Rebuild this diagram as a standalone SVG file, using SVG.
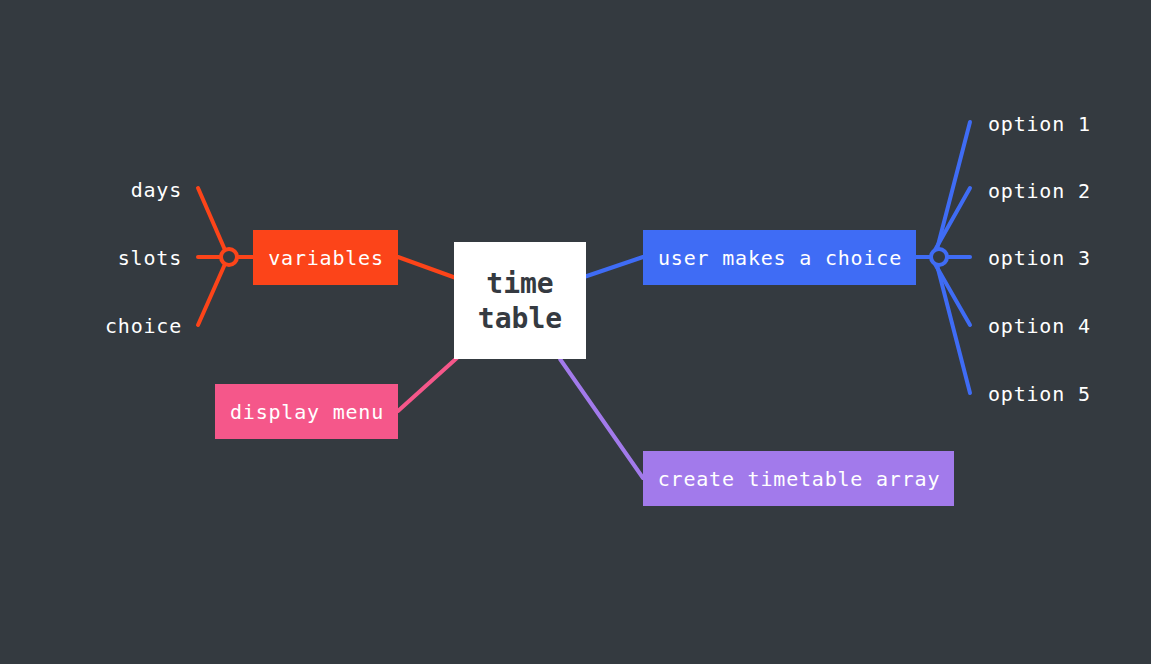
<svg xmlns="http://www.w3.org/2000/svg" width="1151" height="664" viewBox="0 0 1151 664">
<style>
.t{font-family:"DejaVu Sans Mono","Liberation Mono",monospace;font-size:20px;letter-spacing:0.8px;fill:#ffffff}
.c{font-family:"DejaVu Sans Mono","Liberation Mono",monospace;font-size:28px;font-weight:bold;letter-spacing:0px;fill:#353a41}
.l{fill:none;stroke-width:4;stroke-linecap:round}
.or{stroke:#fc4419}.bl{stroke:#3f6cf5}.pk{stroke:#f5578a}.pu{stroke:#a27aeb}
</style>
<rect width="1151" height="664" fill="#343a40"/>
<g id="connectors">
<line class="l or" x1="398" y1="257" x2="456" y2="278"/>
<line class="l bl" x1="584" y1="277" x2="643" y2="257"/>
<line class="l pk" x1="398" y1="411" x2="458" y2="357"/>
<line class="l pu" x1="560" y1="359" x2="643" y2="478"/>
<line class="l or" x1="237" y1="257" x2="253" y2="257"/>
<line class="l or" x1="198" y1="188" x2="225" y2="250"/>
<line class="l or" x1="198" y1="257" x2="221" y2="257"/>
<line class="l or" x1="198" y1="325" x2="225" y2="264"/>
<circle cx="229" cy="257" r="8" fill="#343a40" stroke="#fc4419" stroke-width="4"/>
<line class="l bl" x1="916" y1="257" x2="931" y2="257"/>
<line class="l bl" x1="970" y1="122" x2="937" y2="249"/>
<line class="l bl" x1="970" y1="188" x2="935" y2="250"/>
<line class="l bl" x1="970" y1="257" x2="947" y2="257"/>
<line class="l bl" x1="970" y1="325" x2="935" y2="264"/>
<line class="l bl" x1="970" y1="393" x2="937" y2="265"/>
<circle cx="939" cy="257" r="8" fill="#343a40" stroke="#3f6cf5" stroke-width="4"/>
</g>
<g id="center">
<rect x="454" y="242" width="132" height="117" fill="#ffffff"/>
<text class="c" x="520" y="293" text-anchor="middle">time</text>
<text class="c" x="520" y="328" text-anchor="middle">table</text>
</g>
<g id="variables">
<rect x="253" y="230" width="145" height="55" fill="#fc4419"/>
<text class="t" x="326" y="265" text-anchor="middle">variables</text>
</g>
<g id="days"><text class="t" x="182" y="197" text-anchor="end">days</text></g>
<g id="slots"><text class="t" x="182" y="265" text-anchor="end">slots</text></g>
<g id="choice"><text class="t" x="182" y="333" text-anchor="end">choice</text></g>
<g id="user-choice">
<rect x="643" y="230" width="273" height="55" fill="#3f6cf5"/>
<text class="t" x="780" y="265" text-anchor="middle">user makes a choice</text>
</g>
<g id="option1"><text class="t" x="988" y="131">option 1</text></g>
<g id="option2"><text class="t" x="988" y="198">option 2</text></g>
<g id="option3"><text class="t" x="988" y="265">option 3</text></g>
<g id="option4"><text class="t" x="988" y="333">option 4</text></g>
<g id="option5"><text class="t" x="988" y="401">option 5</text></g>
<g id="display-menu">
<rect x="215" y="384" width="183" height="55" fill="#f5578a"/>
<text class="t" x="307" y="419" text-anchor="middle">display menu</text>
</g>
<g id="create-array">
<rect x="643" y="451" width="311" height="55" fill="#a27aeb"/>
<text class="t" x="799" y="486" text-anchor="middle">create timetable array</text>
</g>
</svg>
